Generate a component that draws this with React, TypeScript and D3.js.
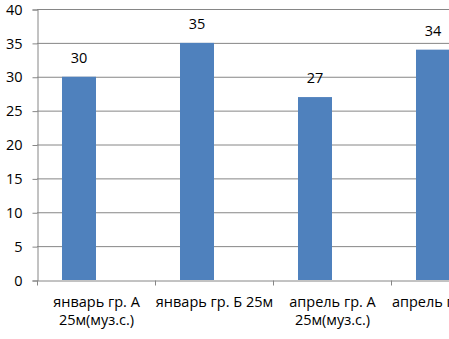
import React, { useRef, useEffect } from "react";
import * as d3 from "d3";

const categories = [
  "январь гр. А 25м(муз.с.)",
  "январь гр. Б 25м",
  "апрель гр. А 25м(муз.с.)",
  "апрель гр. Б 25м",
];
const series = ["Ряд 1", "Ряд 2"];
const values = [30, 35, 27, 34];
const yTicks = [0, 5, 10, 15, 20, 25, 30, 35, 40];

const FONT = "'Open Sans', sans-serif";

const Chart = () => {
  const ref = useRef<SVGSVGElement>(null);

  useEffect(() => {
    const svg = d3.select(ref.current);
    svg.selectAll("*").remove();

    const height = 339;
    const margin = { top: 9, bottom: 59, left: 37 };
    const band = 118;

    const x0 = d3
      .scaleBand<string>()
      .domain(categories)
      .range([margin.left, margin.left + band * categories.length])
      .padding(0);

    const x1 = d3
      .scaleBand<string>()
      .domain(series)
      .range([0, band])
      .paddingInner(0)
      .paddingOuter(0.735);

    const y = d3
      .scaleLinear()
      .domain([0, 40])
      .range([height - margin.bottom, margin.top]);

    const right = margin.left + band * categories.length;

    // gridlines
    svg
      .append("g")
      .selectAll("line")
      .data(yTicks.slice(1))
      .join("line")
      .attr("x1", margin.left)
      .attr("x2", right)
      .attr("y1", (d) => y(d) + 0.5)
      .attr("y2", (d) => y(d) + 0.5)
      .attr("stroke", "#868686")
      .attr("stroke-width", 1);

    // y axis
    const yAxis = svg
      .append("g")
      .attr("transform", `translate(${margin.left + 0.5},0.5)`)
      .call(d3.axisLeft(y).tickValues(yTicks).tickSize(5).tickPadding(10));
    yAxis.select(".domain").attr("stroke", "#868686");
    yAxis.selectAll(".tick line").attr("stroke", "#868686");
    yAxis
      .selectAll("text")
      .attr("fill", "#000")
      .style("font-family", FONT)
      .style("font-size", "14.5px");

    // x axis
    const xAxis = svg
      .append("g")
      .attr("transform", `translate(0.5,${y(0) + 0.5})`)
      .call(d3.axisBottom(x0).tickSize(0).tickPadding(16));
    xAxis.select(".domain").attr("stroke", "#868686");
    xAxis
      .selectAll("line.sep")
      .data(d3.range(categories.length + 1))
      .join("line")
      .attr("class", "sep")
      .attr("x1", (i) => margin.left + i * band)
      .attr("x2", (i) => margin.left + i * band)
      .attr("y1", 0)
      .attr("y2", 5)
      .attr("stroke", "#868686");
    xAxis
      .selectAll<SVGTextElement, string>(".tick text")
      .attr("fill", "#000")
      .style("font-family", FONT)
      .style("font-size", "14.5px")
      .each(function (d) {
        const text = d3.select(this);
        const words = d.split(" ");
        text.text(null);
        let line: string[] = [];
        let tspan = text.append("tspan").attr("x", 0).attr("dy", "0.71em");
        for (const w of words) {
          line.push(w);
          tspan.text(line.join(" "));
          if (
            (tspan.node() as SVGTextContentElement).getComputedTextLength() > band + 6 &&
            line.length > 1
          ) {
            line.pop();
            tspan.text(line.join(" "));
            line = [w];
            tspan = text.append("tspan").attr("x", 0).attr("dy", "1.25em").text(w);
          }
        }
      });

    // bars
    svg
      .append("g")
      .selectAll("rect")
      .data(values)
      .join("rect")
      .attr("x", (d, i) => (x0(categories[i]) as number) + (x1(series[0]) as number))
      .attr("y", (d) => y(d))
      .attr("width", x1.bandwidth())
      .attr("height", (d) => y(0) - y(d))
      .attr("fill", "#4F81BD");

    // value labels
    svg
      .append("g")
      .selectAll("text")
      .data(values)
      .join("text")
      .attr(
        "x",
        (d, i) =>
          (x0(categories[i]) as number) + (x1(series[0]) as number) + x1.bandwidth() / 2
      )
      .attr("y", (d) => y(d) - 14)
      .attr("text-anchor", "middle")
      .attr("fill", "#000")
      .style("font-family", FONT)
      .style("font-size", "14.5px")
      .text((d) => d);
  }, []);

  return (
    <svg
      ref={ref}
      width={449}
      height={339}
      style={{ position: "absolute", left: 0, top: 0, background: "#fff" }}
    />
  );
};

export default function App() {
  return <Chart />;
}
